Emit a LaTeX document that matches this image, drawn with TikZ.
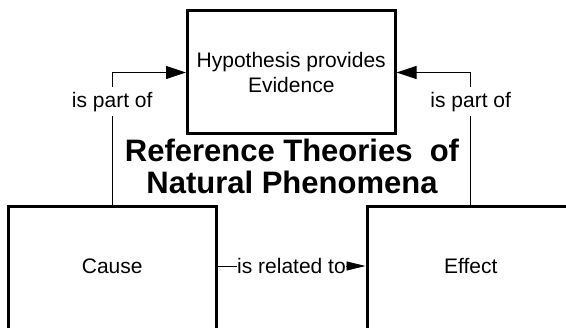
\documentclass[tikz,border=0pt]{standalone}
\usepackage{fontspec}
\setmainfont{Liberation Sans}
\usetikzlibrary{arrows.meta}
\begin{document}
\begin{tikzpicture}[x=1pt,y=-1pt,
  txt/.style={font=\fontsize{21}{25}\selectfont},
  box/.style={draw=black, line width=3pt, minimum width=207.5pt, inner sep=0pt, align=center, txt},
  conn/.style={draw=black, line width=0.9pt},
  bigtip/.style={-{Triangle[length=20pt,width=13pt]}},
  smalltip/.style={-{Triangle[length=19pt,width=9pt]}},
  lbl/.style={fill=white, inner xsep=1pt, inner ysep=5pt, txt},
  heading/.style={font=\fontsize{31}{32.3}\selectfont\bfseries, align=center, inner sep=0pt}]
\useasboundingbox (0,0) rectangle (566,328);
\clip (0,0) rectangle (566,328);

% boxes
\node[box, minimum height=123pt] (hyp) at (291.25,72.5) {Hypothesis provides\\Evidence};
\node[box, minimum height=200pt] (cause) at (112.25,306.7) {};
\node[box, minimum height=200pt] (effect) at (470.75,306.7) {};
\node[txt, inner sep=0pt] (causetxt) at ([yshift=-60.8pt]cause.north) {Cause};
\node[txt, inner sep=0pt] (effecttxt) at ([yshift=-60.8pt]effect.north) {Effect};

% heading
\node[heading] (title) at (292,166.7) {Reference Theories\ \ of\\Natural Phenomena};

% connectors
\draw[conn,bigtip] (cause.north) |- node[lbl,pos=0.39]{is part of} (hyp.west);
\draw[conn,bigtip] (effect.north) |- node[lbl,pos=0.39]{is part of} (hyp.east);
\draw[conn,smalltip] ([yshift=-60.8pt]cause.north east) -- node[lbl, inner ysep=1pt, inner xsep=0pt]{is related to} ([yshift=-60.8pt]effect.north west);
\end{tikzpicture}
\end{document}
